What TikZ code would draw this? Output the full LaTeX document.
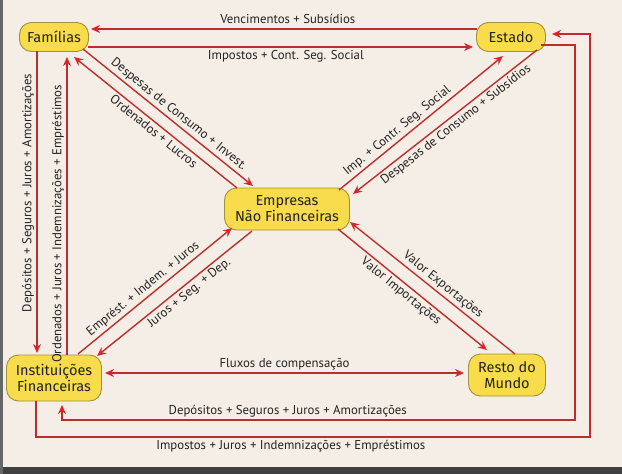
\documentclass[tikz,border=0pt]{standalone}
\usepackage{fontspec}
\setmainfont{PT Sans}
\newfontfamily\caixafont{Fira Sans}
\usetikzlibrary{calc,arrows.meta}
\definecolor{papel}{HTML}{F5EEE6}
\definecolor{fio}{HTML}{BC2E2C}
\definecolor{ponta}{HTML}{D9262B}
\definecolor{amarelo}{HTML}{F8DC4C}
\definecolor{borda}{HTML}{A0903F}
\definecolor{tinta}{HTML}{222222}
\tikzset{
  >={Stealth[length=9pt,width=8pt,color=ponta]},
  caixa/.style={draw=borda, line width=0.9pt, fill=amarelo, rounded corners=12pt,
    text=tinta, align=center, font=\caixafont\fontsize{14.5}{16}\selectfont, inner sep=0pt},
  fluxo/.style={draw=fio, line width=1.4pt, ->},
  rotulo/.style={text=tinta, font=\fontsize{12.8}{14}\selectfont, inner sep=2.5pt,
    text height=9pt, text depth=2.5pt},
}

\begin{document}
\begin{tikzpicture}[x=1pt,y=-1pt]
	%%%%% FUNDO %%%%%
	\fill[papel] (0,0) rectangle (622,474);
	\useasboundingbox (0,0) rectangle (622,474);
	\fill[black!75] (0,467) rectangle (622,474);
	\fill[black!60] (0,0) rectangle (3,474);
	
	%%%%% SECTORES %%%%%
	\node[caixa, minimum width=69pt, minimum height=29pt] (fam) at (54,37) {Famílias};
	\node[caixa, minimum width=69pt, minimum height=29pt] (est) at (511,37) {Estado};
	\node[caixa, minimum width=125pt, minimum height=42pt] (emp) at (287,209) {Empresas\\Não Financeiras};
	\node[caixa, minimum width=95pt, minimum height=46pt] (inst) at (54,378) {Instituições\\Financeiras};
	\node[caixa, minimum width=77pt, minimum height=42pt] (rest) at (507,375) {Resto do\\Mundo};
	
	%%%%% FAMILIAS - ESTADO %%%%%
	\draw[fluxo] ($(est)+(-34,-8)$) -- node[rotulo,above,pos=0.49]{Vencimentos + Subsídios} ($(fam)+(37,-8)$);
	\draw[fluxo] ($(fam)+(34,10)$) -- node[rotulo,below,pos=0.514]{Impostos + Cont. Seg. Social} ($(est)+(-38,10)$);
	
	%%%%% DIAGONAIS %%%%%
	\draw[fluxo] ($(fam)+(29,12)$) -- node[rotulo,sloped,above,pos=0.53]{Despesas de Consumo + Invest.} ($(emp)+(-34,-23)$);
	\draw[fluxo] ($(emp)+(-50,-21)$) -- node[rotulo,sloped,below,pos=0.48]{Ordenados + Lucros} ($(fam)+(20,20)$);
	
	\draw[fluxo] ($(emp)+(52,-19)$) -- node[rotulo,sloped,above,pos=0.39]{Imp. + Contr. Seg. Social} ($(est)+(-8,19)$);
	\draw[fluxo] ($(est)+(26,13)$) -- node[rotulo,sloped,below,pos=0.47]{Despesas de Consumo + Subsídios} ($(emp)+(66,-15)$);
	
	\draw[fluxo] ($(inst)+(24,-24)$) -- node[rotulo,sloped,above,pos=0.46]{Emprést. + Indem. + Juros} ($(emp)+(-55,19)$);
	\draw[fluxo] ($(emp)+(-35,22)$) -- node[rotulo,sloped,below,pos=0.44]{Juros + Seg. + Dep.} ($(inst)+(43,-22)$);
	
	\draw[fluxo] ($(rest)+(8,-21)$) -- node[rotulo,sloped,above,pos=0.47]{Valor Exportações} ($(emp)+(63,13)$);
	\draw[fluxo] ($(emp)+(51,20)$) -- node[rotulo,sloped,below,pos=0.46]{Valor Importações} ($(rest)+(-20,-25)$);
	
	%%%%% INSTITUICOES - RESTO %%%%%
	\draw[fluxo,<->] ($(inst)+(51,-5)$) -- node[rotulo,above]{Fluxos de compensação} ($(rest)+(-43,-2)$);
	
	%%%%% VERTICAIS %%%%%
	\draw[fluxo] ($(fam)+(-17,14)$) -- node[rotulo,above,rotate=90,pos=0.47]{Depósitos + Seguros + Juros + Amortizações} ($(inst)+(-17,-25)$);
	\draw[fluxo] ($(inst)+(13,-23)$) -- node[rotulo,above,rotate=90,pos=0.44]{Ordenados + Juros + Indemnizações + Empréstimos} ($(fam)+(13,20)$);
	
	%%%%% CONTORNO %%%%%
	\draw[fluxo] ($(est)+(30,8)$) -- ++(34,0) -- ++(0,375)
		-- node[rotulo,above,pos=0.56]{Depósitos + Seguros + Juros + Amortizações} ($(inst)+(8,42)$) -- ($(inst)+(8,27)$);
	\draw[fluxo] ($(inst)+(-18,23)$) -- ++(0,36)
		-- node[rotulo,below,pos=0.46]{Impostos + Juros + Indemnizações + Empréstimos} ++(554,0) |- ($(est)+(41,-3)$);
\end{tikzpicture}
\end{document}
